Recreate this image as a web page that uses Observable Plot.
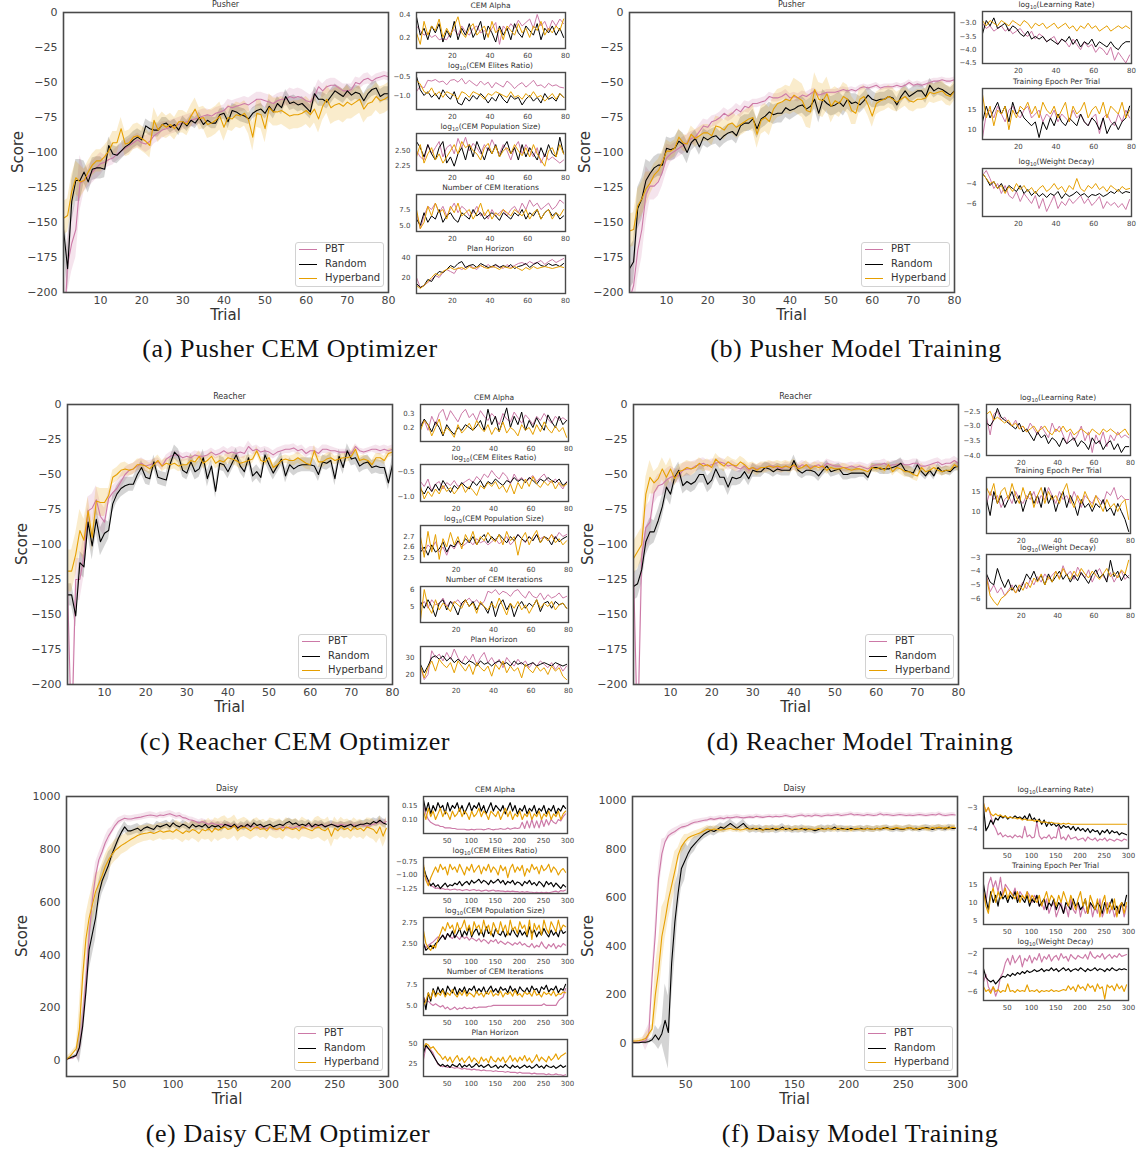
<!DOCTYPE html>
<html><head><meta charset="utf-8">
<script src="https://cdn.jsdelivr.net/npm/d3@7"></script>
<script src="https://cdn.jsdelivr.net/npm/@observablehq/plot@0.6"></script>
<style>
body{margin:0;background:#fff;}
#page{position:relative;width:1137px;height:1150px;overflow:hidden;background:#fff;font-family:"DejaVu Sans",sans-serif;}
.t{position:absolute;white-space:nowrap;color:#333;line-height:1;}
.t sub{font-size:70%;vertical-align:-0.25em;line-height:0;}
.cap{font-family:"Liberation Serif",serif;color:#111;font-size:26px;letter-spacing:0.6px;}
.legend{position:absolute;width:89px;height:45px;box-sizing:border-box;border:1px solid #d2d2d2;border-radius:3px;background:#fff;}
.lrow{position:absolute;left:0;font-size:10px;color:#333;white-space:nowrap;line-height:1;}
.lrow span.sw{position:absolute;left:3px;top:0;width:18px;height:0;border-top:1.3px solid;}
.lrow span.lb{position:absolute;left:29px;top:-5px;}
</style></head><body><div id="page"></div>
<script>
// ---------- shared labels ----------
const methods = ["PBT", "Random", "Hyperband"];
const methodColors = ["#cc79a7", "#000000", "#e69f00"];
const ticks80Main = [10, 20, 30, 40, 50, 60, 70, 80];
const ticks80Side = [20, 40, 60, 80];
const ticks300 = [50, 100, 150, 200, 250, 300];
const scoreTicksNeg = [0, -25, -50, -75, -100, -125, -150, -175, -200];
const scoreTicksPos = [0, 200, 400, 600, 800, 1000];

// ---------- (a) Pusher CEM Optimizer : score per trial (1..80) ----------
const aPBT = [-235,-180,-165,-155,-122,-120,-117,-114,-111,-108,-107,-105,-104,-101,-99,-97,-95,-93,-91,-93,-94,-92,-88,-86,-84,-83,-82,-81,-80,-79,-78,-77,-76,-75,-74,-73,-74,-72,-71,-70,-67,-68,-67,-66,-65,-66,-64,-62,-62,-63,-64,-65,-63,-62,-62,-60,-61,-60,-61,-63,-64,-60,-53,-56,-53,-52,-52,-54,-56,-56,-55,-50,-51,-48,-47,-49,-47,-46,-45,-46];
const aRandom = [-155,-183,-135,-120,-120,-114,-121,-112,-111,-111,-112,-95,-101,-102,-99,-96,-94,-91,-89,-91,-81,-83,-84,-84,-80,-79,-82,-80,-84,-78,-81,-77,-79,-75,-80,-77,-79,-79,-73,-72,-78,-70,-71,-73,-74,-76,-72,-70,-69,-72,-67,-71,-65,-68,-60,-65,-64,-66,-65,-68,-71,-58,-62,-62,-64,-60,-56,-58,-60,-56,-59,-57,-58,-63,-58,-55,-54,-60,-58,-58];
const aHyper = [-147,-145,-128,-118,-121,-120,-114,-109,-106,-106,-103,-99,-93,-93,-83,-94,-93,-89,-88,-90,-92,-95,-77,-84,-80,-82,-80,-83,-78,-78,-80,-74,-69,-76,-75,-80,-79,-77,-74,-82,-75,-76,-73,-74,-72,-77,-89,-72,-73,-83,-68,-71,-71,-70,-72,-74,-73,-73,-72,-70,-73,-69,-76,-67,-62,-68,-66,-65,-67,-64,-66,-64,-62,-69,-65,-64,-60,-63,-62,-60];
// band half-widths, one per 5 trials
const aPBTSd = [20,8,5,5,6,5,5,4,5,5,5,6,5,5,4,3];
const aRandomSd = [15,8,6,6,5,4,4,4,5,4,5,5,5,5,5,5];
const aHyperSd = [12,8,8,9,9,8,8,10,9,10,10,10,10,12,10,10];
// (a) hyperparameters, every 2nd trial (1,3,...,79)
const aAlphaPBT = [.3,.26,.22,.24,.2,.22,.18,.19,.18,.24,.27,.22,.3,.25,.22,.28,.3,.24,.26,.22,.28,.33,.14,.3,.26,.32,.28,.35,.3,.33,.36,.28,.4,.3,.34,.26,.35,.3,.36,.32];
const aAlphaRandom = [.38,.22,.28,.18,.3,.24,.32,.16,.26,.2,.34,.18,.28,.22,.32,.2,.26,.34,.18,.3,.24,.16,.3,.22,.28,.18,.32,.24,.2,.3,.26,.22,.32,.18,.28,.24,.3,.22,.28,.2];
const aAlphaHyper = [.24,.14,.34,.22,.3,.26,.36,.2,.28,.22,.3,.38,.24,.2,.28,.32,.22,.26,.3,.2,.34,.24,.28,.18,.3,.26,.22,.32,.24,.28,.2,.3,.26,.34,.22,.28,.24,.3,.26,.36];
const aElitesPBT = [-.9,-.75,-.8,-.6,-.62,-.58,-.65,-.62,-.72,-.6,-.58,-.65,-.55,-.7,-.6,-.68,-.75,-.62,-.72,-.65,-.8,-.66,-.72,-.78,-.62,-.7,-.82,-.72,-.66,-.78,-.7,-.6,-.75,-.72,-.8,-.68,-.75,-.72,-.78,-.8];
const aElitesRandom = [-.5,-.85,-1,-.9,-1.05,-.95,-1.1,-.85,-1,-1.1,-.9,-1.2,-1.25,-1.05,-1.15,-1,-1.1,-.95,-1.05,-1.2,-1.05,-1.15,-.95,-1.1,-1.2,-1,-1.1,-1.05,-1.25,-1.1,-1,-1.15,-1.05,-1.2,-.95,-1.1,-1.05,-1.15,-.95,-1.05];
const aElitesHyper = [-.6,-.7,-.9,-.95,-.8,-1,-.9,-1.05,-.9,-.95,-1,-1.1,-.9,-.95,-1.05,-.9,-.95,-1,-1.1,-.95,-1,-.9,-.95,-1,-1.05,-.9,-1.05,-1,-1.1,-.95,-1.05,-.9,-1.05,-1,-1.15,-1.05,-.95,-1.1,-.95,-1.05];
const aPopPBT = [2.5,2.4,2.35,2.6,2.45,2.55,2.65,2.4,2.55,2.6,2.45,2.7,2.55,2.72,2.5,2.62,2.55,2.45,2.6,2.5,2.68,2.55,2.45,2.6,2.5,2.35,2.55,2.65,2.45,2.6,2.5,2.4,2.55,2.3,2.45,2.35,2.4,2.35,2.3,2.35];
const aPopRandom = [2.65,2.55,2.4,2.6,2.45,2.35,2.55,2.65,2.3,2.4,2.25,2.45,2.55,2.35,2.6,2.4,2.65,2.5,2.35,2.55,2.45,2.6,2.4,2.55,2.65,2.45,2.55,2.35,2.6,2.4,2.55,2.45,2.35,2.55,2.4,2.6,2.45,2.4,2.72,2.45];
const aPopHyper = [2.4,2.6,2.3,2.45,2.55,2.35,2.45,2.3,2.4,2.5,2.6,2.45,2.65,2.55,2.6,2.5,2.45,2.35,2.55,2.62,2.45,2.58,2.4,2.5,2.55,2.45,2.6,2.5,2.42,2.55,2.4,2.6,2.45,2.35,2.25,2.5,2.55,2.4,2.6,2.45];
const aIterPBT = [7,4.5,6.5,8,7.5,8.5,7,8,6.5,7.5,8.5,7,8,7.5,6.5,7,8,6.5,7,6,7.5,6.5,7,7.5,6.5,7.5,8,7,8.5,7.5,9,8,8.5,7.5,8,8.5,7.5,8,9,8.5];
const aIterRandom = [6,5,7,5.5,6.5,6,7.5,5.5,6.5,7,6,5.5,7,6.5,6,7.5,6.5,7,6,6.5,7,6.5,5.8,7,6.5,6,7,6.5,7.5,6,7,6.5,7.5,6,7,7.5,6.5,7,6,6.5];
const aIterHyper = [7.5,4.5,5.5,8,6.5,8.5,7,7.5,6,8,7,8.5,6.5,7,7.5,6,7,8.5,6.5,7.5,6,7,6.5,7.5,7,6.5,7.5,7,6.5,7.5,6,7,7.5,6,7,7.5,6,7,6.5,7.5];
const aHorPBT = [20,10,12,15,18,22,20,25,28,26,24,30,28,30,32,30,28,32,30,33,30,32,31,29,33,30,32,34,35,33,36,34,35,37,33,36,38,35,37,39];
const aHorRandom = [14,10,12,18,16,22,26,25,28,32,30,34,36,30,32,33,30,34,32,30,31,33,30,32,30,33,29,31,32,34,30,33,35,32,31,34,32,33,31,34];
const aHorHyper = [12,9,12,16,20,24,22,26,28,30,28,29,30,28,31,29,30,32,30,29,31,30,28,31,30,29,31,29,27,30,28,31,29,30,31,30,29,30,31,30];

// ---------- (b) Pusher Model Training ----------
const bPBT = [-205,-195,-170,-155,-130,-124,-124,-121,-114,-104,-101,-99,-97,-95,-93,-90,-89,-85,-81,-82,-78,-77,-75,-72,-74,-72,-69,-71,-67,-68,-65,-65,-64,-63,-60,-61,-61,-60,-58,-61,-60,-61,-59,-60,-58,-56,-59,-58,-57,-57,-57,-56,-55,-56,-55,-56,-54,-53,-54,-53,-52,-54,-53,-53,-53,-52,-53,-52,-50,-52,-51,-52,-51,-50,-49,-49,-48,-49,-49,-48];
const bRandom = [-183,-178,-140,-133,-120,-115,-111,-109,-109,-97,-98,-97,-92,-94,-100,-93,-90,-96,-89,-91,-89,-88,-91,-88,-86,-85,-88,-81,-79,-79,-76,-83,-76,-74,-71,-73,-72,-72,-68,-70,-69,-67,-66,-69,-67,-62,-72,-62,-65,-67,-66,-64,-67,-62,-65,-64,-66,-63,-59,-62,-63,-62,-62,-60,-61,-66,-60,-56,-60,-58,-56,-56,-60,-52,-56,-54,-55,-57,-59,-56];
const bHyper = [-156,-155,-138,-133,-126,-122,-116,-113,-107,-99,-99,-97,-89,-93,-94,-87,-90,-88,-86,-86,-88,-81,-82,-84,-80,-79,-82,-80,-78,-76,-75,-87,-77,-75,-78,-69,-65,-64,-62,-63,-59,-61,-63,-70,-71,-55,-62,-63,-58,-67,-63,-65,-60,-62,-70,-72,-62,-60,-66,-74,-65,-63,-62,-60,-62,-64,-62,-60,-63,-64,-62,-62,-61,-57,-58,-57,-56,-59,-60,-56];
const bPBTSd = [20,10,6,5,4,4,3,3,3,2,2,2,2,2,2,2];
const bRandomSd = [15,8,8,6,6,6,7,7,6,7,7,6,5,5,5,5];
const bHyperSd = [12,8,6,6,7,8,10,10,12,12,10,8,8,7,7,7];
const bLrPBT = [-3,-3.2,-3.1,-3.3,-3.2,-3.1,-3.3,-3.2,-3.4,-3.3,-3.2,-3.4,-3.5,-3.3,-3.6,-3.4,-3.5,-3.7,-3.6,-3.5,-3.8,-3.6,-3.7,-3.9,-3.6,-3.8,-4,-3.7,-3.9,-3.8,-4.1,-3.9,-4,-4.2,-3.9,-4.4,-4.1,-4.3,-4.5,-4.2];
const bLrRandom = [-3.4,-2.9,-3.1,-2.8,-3.2,-3.1,-3,-3.3,-3.1,-3.2,-3.4,-3.5,-3.3,-3.6,-3.5,-3.6,-3.5,-3.7,-3.6,-3.7,-3.8,-3.6,-3.7,-3.5,-3.8,-3.6,-3.9,-3.7,-3.8,-3.6,-3.9,-3.7,-3.8,-3.9,-3.7,-3.9,-4,-3.8,-3.7,-3.7];
const bLrHyper = [-2.9,-3.1,-2.9,-3,-3.1,-2.9,-3,-3.1,-2.9,-3,-3.1,-2.9,-3,-3.2,-3,-3.1,-3,-3.2,-3.1,-3,-3.2,-3.1,-3,-3.2,-3.1,-3.3,-3.1,-3.2,-3,-3.2,-3.1,-3.3,-3.2,-3.1,-3.3,-3.2,-3.1,-3.2,-3.1,-3.2];
const bEpPBT = [8,14,15,13,16,14,12,15,16,14,13,15,16,13,14,15,12,14,13,15,12,14,13,12,15,13,14,12,11,13,14,9,13,14,12,11,14,12,15,13];
const bEpRandom = [12,16,13,15,17,14,16,12,17,14,15,13,12,11,12,8,12,10,13,11,14,12,11,13,12,11,14,12,11,13,12,10,13,9,11,12,10,12,13,16];
const bEpHyper = [19,13,16,11,15,14,16,10,15,13,16,15,17,14,16,13,17,15,14,16,13,15,17,12,16,14,15,17,13,15,16,14,17,13,16,15,14,17,13,15];
const bWdPBT = [-3.2,-2.7,-3.5,-4.5,-4,-5,-4.2,-5.2,-5.5,-4.8,-5.8,-5,-5.5,-6,-5.2,-6.5,-5.5,-6.8,-6,-5.2,-6.5,-5.8,-6.2,-5.5,-6,-5.6,-5.2,-6,-5.5,-6.2,-5.8,-5.3,-6.5,-5.8,-6.2,-5.9,-6.4,-6,-6.6,-5.6];
const bWdRandom = [-3,-3.5,-4.2,-3.8,-4.5,-4,-4.8,-4.2,-4.5,-4.8,-4.2,-5,-4.6,-5.2,-4.8,-5.3,-5,-5.4,-5,-5.2,-4.8,-5.5,-5,-5.3,-5.1,-4.8,-5.2,-5,-5.4,-5.1,-5.2,-5,-5.3,-5.1,-4.8,-5,-4.6,-5,-4.8,-4.9];
const bWdHyper = [-3,-3.5,-4,-3.8,-4.5,-4.2,-5,-4.3,-4.8,-4,-4.6,-4.2,-4.8,-4.4,-5,-4.5,-4.2,-4.8,-4.5,-4,-4.6,-4.3,-4.9,-4.2,-4.6,-3.5,-4.5,-4.8,-4.2,-4.5,-4,-4.6,-4.3,-4.8,-4.2,-4.5,-4.8,-4.3,-4.6,-4.5];

// ---------- (c) Reacher CEM Optimizer ----------
const cPBT = [-128,-240,-125,-125,-108,-76,-74,-68,-80,-84,-67,-63,-60,-55,-50,-47,-46,-44,-42,-44,-43,-42,-41,-44,-39,-37,-36,-36,-38,-37,-38,-36,-37,-37,-36,-34,-36,-35,-33,-35,-34,-35,-34,-35,-30,-33,-32,-34,-33,-34,-36,-34,-33,-32,-32,-31,-33,-32,-35,-33,-33,-35,-32,-32,-33,-33,-34,-34,-34,-35,-30,-33,-34,-33,-32,-32,-33,-32,-33,-32];
const cRandom = [-136,-136,-151,-113,-116,-84,-101,-82,-98,-92,-90,-71,-64,-60,-58,-57,-57,-50,-45,-52,-53,-41,-52,-53,-54,-42,-34,-37,-47,-49,-41,-48,-46,-38,-53,-44,-62,-42,-43,-48,-42,-36,-44,-48,-38,-51,-48,-52,-36,-43,-49,-44,-39,-51,-43,-46,-44,-43,-43,-43,-44,-50,-41,-42,-40,-53,-37,-45,-33,-39,-38,-44,-42,-41,-45,-44,-45,-45,-56,-43];
const cHyper = [-119,-119,-107,-90,-97,-76,-95,-69,-70,-70,-65,-52,-50,-47,-46,-47,-46,-43,-43,-44,-46,-43,-40,-44,-42,-43,-42,-44,-43,-43,-40,-41,-37,-42,-40,-37,-42,-40,-41,-38,-39,-40,-42,-41,-40,-39,-33,-40,-41,-38,-45,-43,-40,-39,-40,-40,-38,-40,-42,-43,-33,-41,-41,-39,-38,-40,-39,-38,-38,-37,-32,-40,-39,-40,-43,-38,-38,-40,-35,-34];
const cPBTSd = [15,10,5,4,3,3,3,3,4,3,3,3,3,2,2,3];
const cRandomSd = [8,10,6,5,5,5,6,5,5,5,5,5,5,5,5,5];
const cHyperSd = [15,10,5,4,4,4,4,4,4,3,3,4,4,3,3,3];
const cAlphaPBT = [.22,.25,.18,.28,.22,.3,.33,.25,.32,.28,.24,.3,.33,.27,.3,.25,.32,.28,.25,.3,.27,.22,.3,.26,.24,.31,.27,.23,.29,.26,.22,.28,.25,.3,.26,.23,.28,.25,.27,.25];
const cAlphaRandom = [.2,.26,.22,.17,.24,.2,.14,.22,.18,.15,.2,.18,.22,.2,.18,.21,.25,.18,.33,.22,.28,.17,.25,.34,.2,.28,.22,.31,.18,.25,.2,.27,.22,.18,.29,.24,.2,.28,.22,.25];
const cAlphaHyper = [.18,.25,.22,.14,.2,.26,.15,.2,.17,.13,.22,.16,.19,.23,.18,.25,.2,.17,.22,.15,.2,.17,.24,.16,.2,.18,.14,.22,.18,.2,.15,.22,.17,.24,.19,.16,.21,.17,.2,.13];
const cElitesPBT = [-.7,-.8,-.65,-.9,-.75,-.7,-.85,-.72,-.78,-.68,-.8,-.75,-.7,-.65,-.72,-.6,-.68,-.55,-.62,-.48,-.58,-.65,-.52,-.6,-.75,-.55,-.68,-.62,-.72,-.65,-.58,-.7,-.62,-.55,-.68,-.72,-.65,-.75,-.85,-.7];
const cElitesRandom = [-.85,-.95,-.8,-.9,-.75,-.88,-.68,-.8,-.92,-.78,-.85,-.72,-.8,-.85,-.7,-.78,-.68,-.82,-.7,-.75,-.65,-.72,-.78,-.68,-.72,-.62,-.7,-.65,-.72,-.62,-.68,-.75,-.65,-.7,-.62,-.68,-.72,-.65,-.78,-.72];
const cElitesHyper = [-.8,-1.05,-.9,-1,-.85,-.95,-.78,-.9,-.82,-.95,-.85,-.75,-.92,-.8,-.88,-.98,-.78,-.85,-.72,-.8,-.7,-.85,-.78,-.92,-.75,-.95,-.72,-.85,-.65,-.8,-.6,-.75,-.82,-.7,-.78,-.68,-.85,-.72,-.8,-.75];
const cPopPBT = [2.6,2.55,2.62,2.58,2.65,2.55,2.6,2.52,2.62,2.58,2.65,2.6,2.63,2.66,2.62,2.68,2.64,2.66,2.62,2.65,2.68,2.63,2.66,2.7,2.62,2.66,2.72,2.68,2.64,2.7,2.66,2.72,2.68,2.7,2.66,2.72,2.68,2.74,2.7,2.72];
const cPopRandom = [2.55,2.6,2.52,2.62,2.55,2.58,2.65,2.55,2.62,2.6,2.66,2.62,2.68,2.64,2.7,2.62,2.68,2.72,2.64,2.7,2.66,2.72,2.68,2.64,2.7,2.66,2.72,2.68,2.65,2.7,2.66,2.72,2.64,2.7,2.68,2.62,2.7,2.65,2.68,2.7];
const cPopHyper = [2.7,2.5,2.75,2.55,2.72,2.48,2.68,2.6,2.74,2.62,2.7,2.58,2.72,2.65,2.75,2.62,2.7,2.66,2.74,2.68,2.65,2.72,2.62,2.75,2.66,2.7,2.52,2.68,2.74,2.62,2.7,2.76,2.64,2.7,2.66,2.72,2.64,2.68,2.62,2.66];
const cIterPBT = [5,5.3,4.9,5.4,5.1,5.2,5.5,5,5.3,5.2,5.4,5.1,5.3,5.5,5.2,5.4,5.1,5.3,5.9,5.8,6,5.7,5.9,5.8,5.6,5.9,6,5.7,5.5,5.9,5.6,5.5,5.8,5.4,5.7,5.5,5.6,5.8,5.5,5.6];
const cIterRandom = [5.3,4.9,5.4,5,4.4,5.2,5.4,4.8,5.3,5,4.5,5.2,5.4,5,5.3,4.8,5.2,5,4.6,5.3,4.4,5.1,5.4,4.8,5.2,4.4,5,5.3,4.9,5.2,5,5.4,4.7,5.2,5.3,4.9,5.3,5.1,5.2,4.9];
const cIterHyper = [4.2,6,5,4.6,5.4,4.8,5.2,5,4.7,5.3,5.1,4.9,5.4,5,5.2,4.6,5.3,5,4.8,5.2,4.9,5.5,5,4.5,5.2,4.9,5.3,4.8,5.1,4.6,5,5.4,4.9,5.2,5,5.3,4.8,5.1,5.2,4.9];
const cHorPBT = [24,17,20,34,30,32,28,33,29,35,30,27,31,28,32,26,30,33,27,30,26,29,24,30,27,25,29,26,28,24,27,25,28,26,24,27,23,26,22,25];
const cHorRandom = [26,21,25,30,31,29,31,28,30,27,29,27,26,28,27,25,28,26,27,25,27,28,26,27,25,28,26,27,25,26,27,25,26,27,26,25,27,26,25,26];
const cHorHyper = [25,18,24,28,22,29,26,24,27,21,28,25,22,26,20,27,24,22,25,19,26,23,28,21,25,22,24,18,26,23,21,25,22,24,20,25,22,24,19,17];

// ---------- (d) Reacher Model Training ----------
const dPBT = [-118,-240,-108,-88,-84,-63,-58,-57,-54,-52,-51,-51,-47,-46,-46,-44,-43,-42,-44,-43,-42,-41,-42,-44,-43,-45,-46,-44,-47,-45,-46,-45,-45,-44,-44,-45,-46,-44,-45,-44,-45,-43,-44,-45,-44,-43,-45,-42,-43,-44,-44,-45,-45,-44,-45,-44,-45,-46,-44,-43,-43,-42,-44,-43,-43,-42,-43,-43,-42,-42,-44,-44,-43,-42,-41,-43,-42,-42,-40,-42];
const dRandom = [-130,-128,-118,-98,-91,-91,-83,-73,-59,-64,-52,-47,-58,-55,-57,-55,-50,-50,-57,-54,-46,-52,-52,-59,-52,-53,-52,-48,-53,-47,-48,-48,-45,-46,-48,-46,-47,-47,-47,-40,-47,-49,-47,-47,-48,-51,-47,-44,-48,-47,-46,-50,-50,-49,-49,-49,-49,-52,-45,-45,-46,-46,-46,-45,-44,-42,-47,-48,-49,-43,-48,-51,-47,-51,-45,-48,-47,-48,-45,-44];
const dHyper = [-110,-105,-100,-64,-52,-56,-53,-46,-52,-46,-53,-48,-47,-45,-46,-45,-42,-44,-43,-45,-39,-42,-44,-41,-43,-44,-41,-43,-46,-45,-47,-45,-45,-44,-45,-44,-45,-44,-45,-43,-46,-45,-43,-46,-44,-45,-44,-47,-45,-46,-46,-45,-46,-47,-46,-46,-47,-48,-45,-46,-45,-47,-43,-48,-45,-46,-48,-48,-50,-51,-45,-48,-47,-45,-47,-48,-47,-47,-43,-45];
const dPBTSd = [15,8,5,4,3,3,3,3,3,3,3,3,3,3,3,3];
const dRandomSd = [10,8,6,6,6,5,4,4,4,4,4,3,4,4,3,3];
const dHyperSd = [12,8,5,4,4,4,4,4,3,3,3,3,3,4,3,3];
const dLrPBT = [-2.7,-3.3,-2.6,-2.5,-2.8,-2.7,-2.9,-3,-2.8,-3.1,-3,-3.2,-2.9,-3.1,-3.3,-3,-3.2,-3.4,-2.9,-3.2,-3,-3.3,-3.6,-3.2,-3.5,-3.3,-3,-3.5,-3.2,-3.9,-3.3,-3.6,-3.2,-3.7,-3.3,-3.5,-3.2,-3.4,-3.3,-3.4];
const dLrRandom = [-2.9,-3,-2.8,-2.4,-2.7,-2.8,-2.9,-3,-3.1,-2.9,-3.2,-3.1,-3.3,-3.5,-3.2,-3.4,-3.3,-3.6,-3.4,-3.5,-3.7,-3.4,-3.6,-3.5,-3.4,-3.7,-3.5,-3.6,-3.8,-3.4,-3.6,-3.5,-3.8,-3.6,-3.5,-3.8,-3.6,-3.9,-3.7,-3.7];
const dLrHyper = [-2.6,-2.5,-2.8,-2.7,-2.8,-2.9,-2.8,-3,-2.9,-3.1,-3,-3.2,-3.1,-3,-3.2,-3.1,-3,-3.2,-3.3,-3.1,-3.2,-3,-3.2,-3.1,-3.3,-3.2,-3.1,-3.2,-3.3,-3.1,-3.2,-3.3,-3.1,-3.2,-3.1,-3.2,-3.3,-3.2,-3.1,-3.3];
const dEpPBT = [12,15,13,14,11,13,14,12,15,13,12,14,13,15,12,14,13,16,14,12,15,13,14,12,15,13,11,14,13,12,14,13,12,15,14,16,13,14,13,13];
const dEpRandom = [13,9,15,12,14,11,13,15,12,14,10,13,15,12,14,11,16,12,14,10,13,15,11,14,12,9,13,11,12,10,12,11,13,10,11,9,12,10,8,5];
const dEpHyper = [16,14,17,12,15,16,13,17,14,12,16,13,15,11,14,16,12,15,13,14,12,15,17,13,11,14,12,15,13,11,14,12,10,13,11,12,10,12,13,8];
const dWdPBT = [-4.3,-5.5,-5,-5.6,-5.2,-5.8,-5.4,-5,-5.6,-5.2,-4.8,-5.3,-4.6,-5,-4.4,-4.8,-4.2,-4.6,-4.3,-4,-4.5,-3.6,-4.3,-4,-4.6,-3.7,-4.2,-4.5,-3.9,-4.8,-4.2,-3.8,-4.4,-4.6,-4.1,-4.8,-4.3,-4,-4.6,-4.3];
const dWdRandom = [-4.2,-4.8,-5,-3.8,-4.6,-5.2,-4.6,-5.4,-5,-5.5,-4.9,-4.2,-4.6,-4,-4.7,-4.3,-5,-4.2,-4.8,-4.4,-4,-4.6,-4.2,-4.8,-4.3,-4.7,-4.1,-4.5,-4.9,-4.3,-3.9,-4.5,-4.2,-4.8,-3.2,-4.4,-4,-4.7,-4.2,-4.5];
const dWdHyper = [-4.5,-5.8,-6.2,-6.5,-6,-5.8,-5.5,-5.2,-5.6,-5,-5.4,-4.8,-5.2,-4.5,-4.8,-4.2,-5,-4.4,-4.8,-4,-4.6,-3.8,-4.3,-4.6,-4,-4.4,-3.8,-4.2,-4.5,-4,-4.3,-4.6,-4.2,-3.8,-4.4,-4.1,-4.5,-3.9,-4.2,-3.2];

// ---------- (e) Daisy CEM Optimizer : score every 3rd trial (1,4,...,298) ----------
const ePBT = [5,8,10,20,50,150,300,470,610,700,760,790,825,850,870,890,905,912,918,915,915,918,920,922,925,928,930,928,925,930,928,932,935,930,925,928,920,918,912,910,905,900,905,900,895,900,895,892,895,890,895,888,890,885,888,885,890,888,885,880,885,882,878,885,880,875,880,885,880,885,880,885,888,880,885,890,888,885,890,892,888,890,895,892,890,895,892,890,895,892,890,895,890,888,892,895,900,905,900,905];
const eRandom = [5,10,15,20,50,130,260,420,480,540,630,680,710,740,780,810,840,865,885,870,870,875,880,870,880,885,880,875,890,885,890,895,885,900,890,885,895,890,880,895,885,890,885,895,880,890,885,890,880,895,890,885,895,880,890,885,895,885,900,890,895,885,890,895,885,890,895,890,900,905,895,900,890,895,890,900,885,895,890,895,885,890,895,890,885,890,885,890,895,885,890,895,895,900,895,905,900,910,900,895];
const eHyper = [5,15,30,45,120,320,460,540,590,640,670,700,735,760,780,795,805,815,822,830,838,845,852,857,860,862,865,860,865,870,865,868,870,865,875,868,860,870,865,875,870,860,875,870,878,865,880,872,880,885,875,880,890,870,880,885,878,870,880,885,875,880,870,885,880,875,880,870,885,880,875,880,870,885,880,875,870,880,885,875,870,880,850,880,870,885,875,880,870,885,875,880,870,885,880,875,860,885,850,880];
// band half-widths, one per 10 trials
const ePBTSd = [5,50,50,25,15,12,12,12,11,12,12,11,12,12,11,10,10,11,10,10,11,10,10,11,10,10,11,10,10,12];
const eRandomSd = [5,60,80,50,25,20,18,15,16,15,14,15,16,14,15,13,15,14,15,16,14,15,13,15,14,16,15,14,15,16];
const eHyperSd = [10,90,70,45,40,35,32,30,30,32,35,34,36,40,42,40,36,35,34,36,35,37,34,40,42,36,35,34,38,42];
// (e) hyperparameters, every 5th trial (1,6,...,296)
const eAlphaPBT = [.15,.12,.1,.09,.085,.08,.08,.075,.075,.07,.07,.07,.068,.068,.065,.065,.065,.065,.063,.063,.065,.063,.065,.065,.065,.063,.065,.068,.065,.063,.065,.065,.068,.065,.065,.07,.065,.068,.07,.068,.07,.09,.068,.095,.07,.1,.07,.095,.07,.1,.075,.1,.08,.1,.09,.085,.1,.095,.11,.12];
const eAlphaRandom = [.17,.13,.16,.12,.15,.13,.16,.14,.15,.12,.16,.13,.15,.14,.16,.13,.15,.12,.14,.16,.13,.15,.14,.16,.13,.15,.12,.14,.16,.13,.15,.14,.13,.15,.12,.14,.16,.13,.15,.12,.14,.13,.15,.12,.14,.13,.15,.12,.14,.13,.15,.12,.14,.13,.15,.12,.14,.13,.15,.14];
const eAlphaHyper = [.13,.1,.14,.11,.13,.1,.12,.14,.11,.13,.12,.1,.13,.11,.12,.14,.11,.13,.12,.1,.13,.11,.12,.14,.11,.13,.12,.1,.13,.12,.11,.13,.1,.12,.14,.11,.13,.1,.12,.11,.13,.1,.12,.11,.13,.1,.12,.11,.13,.1,.12,.11,.13,.1,.12,.11,.13,.1,.12,.13];
const eElitesPBT = [-1,-1.05,-1.15,-1.2,-1.22,-1.25,-1.24,-1.26,-1.25,-1.27,-1.26,-1.28,-1.27,-1.26,-1.28,-1.27,-1.29,-1.28,-1.27,-1.29,-1.28,-1.27,-1.29,-1.28,-1.3,-1.29,-1.28,-1.3,-1.29,-1.28,-1.3,-1.29,-1.3,-1.3,-1.31,-1.3,-1.31,-1.3,-1.31,-1.31,-1.32,-1.31,-1.32,-1.31,-1.32,-1.32,-1.33,-1.32,-1.33,-1.32,-1.33,-1.32,-1.33,-1.32,-1.31,-1.3,-1.32,-1.29,-1.3,-1.28];
const eElitesRandom = [-.85,-1,-1.1,-1.2,-1.15,-1.22,-1.18,-1.25,-1.2,-1.15,-1.22,-1.18,-1.2,-1.15,-1.18,-1.12,-1.2,-1.15,-1.12,-1.18,-1.1,-1.15,-1.12,-1.08,-1.15,-1.1,-1.13,-1.18,-1.1,-1.15,-1.12,-1.08,-1.15,-1.1,-1.18,-1.12,-1.15,-1.1,-1.18,-1.13,-1.15,-1.2,-1.12,-1.16,-1.1,-1.18,-1.14,-1.2,-1.12,-1.16,-1.22,-1.12,-1.18,-1.14,-1.22,-1.15,-1.2,-1.25,-1.18,-1.22];
const eElitesHyper = [-.8,-1.1,-1.2,-1.05,-.95,-.85,-.95,-.8,-.9,-.85,-1,-.8,-.9,-.85,-.95,-.8,-.9,-1,-.85,-.92,-.8,-.95,-.88,-.82,-.98,-.85,-.92,-.8,-.95,-.85,-.9,-1,-.82,-.92,-.85,-1.05,-.88,-.8,-.95,-.85,-.92,-.82,-1.02,-.88,-.95,-.8,-.9,-.85,-.98,-.82,-.92,-.88,-.8,-.95,-.85,-.9,-1,-.92,-.88,-.95];
const ePopPBT = [2.5,2.45,2.48,2.5,2.52,2.55,2.58,2.56,2.6,2.55,2.62,2.58,2.56,2.6,2.58,2.55,2.6,2.56,2.58,2.54,2.57,2.55,2.53,2.56,2.52,2.55,2.53,2.5,2.54,2.52,2.55,2.5,2.53,2.51,2.49,2.52,2.5,2.48,2.51,2.49,2.52,2.48,2.5,2.47,2.46,2.5,2.45,2.48,2.46,2.52,2.47,2.44,2.49,2.46,2.5,2.44,2.48,2.46,2.5,2.48];
const ePopRandom = [2.5,2.42,2.45,2.48,2.44,2.5,2.52,2.56,2.6,2.55,2.62,2.58,2.65,2.57,2.62,2.68,2.58,2.65,2.6,2.7,2.58,2.64,2.68,2.6,2.66,2.58,2.7,2.62,2.64,2.58,2.68,2.62,2.6,2.66,2.58,2.64,2.6,2.68,2.62,2.58,2.66,2.6,2.64,2.58,2.7,2.62,2.66,2.58,2.64,2.6,2.68,2.62,2.58,2.66,2.6,2.64,2.58,2.68,2.62,2.64];
const ePopHyper = [2.65,2.5,2.45,2.42,2.48,2.45,2.55,2.62,2.7,2.65,2.75,2.68,2.72,2.62,2.75,2.66,2.7,2.78,2.65,2.72,2.6,2.76,2.68,2.72,2.62,2.78,2.66,2.72,2.6,2.75,2.68,2.62,2.76,2.65,2.72,2.6,2.78,2.66,2.7,2.62,2.76,2.68,2.72,2.6,2.78,2.55,2.74,2.66,2.72,2.6,2.78,2.68,2.62,2.76,2.7,2.64,2.78,2.66,2.72,2.7];
const eIterPBT = [6,5.5,5.5,5.2,5,5.2,5,4.8,5,4.6,4.8,4.5,4.6,4.8,4.5,4.7,4.6,4.8,4.6,4.7,4.6,4.8,4.7,4.8,4.8,4.8,4.8,4.9,4.9,5,5,5,5,5,5,5,5,5,5,5,5,5,5,5,5,5,5,5,5,5,5.2,5,5,5,5,5,5.5,5.8,6,7];
const eIterRandom = [6,4.5,6.5,5.5,7,6.2,7.2,6.5,7,6.2,7.3,6.8,6.5,7.2,6.3,7,6.6,7.2,6.4,7,6.8,7.3,6.5,7,6.6,7.2,6.4,6.9,7.3,6.6,7,6.5,7.2,6.8,7,6.5,7.3,6.7,7,6.4,7.2,6.8,6.6,7.1,6.5,7.3,6.8,7,6.4,7.2,6.9,7.4,6.6,7,6.8,7.3,6.5,7,6.8,7.5];
const eIterHyper = [5,5.5,6.5,5.8,6.8,6,6.5,6.2,6.8,6,6.5,6.2,6.9,6.3,6,6.6,6.2,6.8,6.1,6.5,6.3,6,6.7,6.2,6.5,6,6.6,6.3,6.8,6.1,6.4,6.2,6.7,6,6.5,6.3,6.6,6.1,6.8,6.2,6.4,6,6.6,6.3,6.5,6.1,6.8,6.2,6.4,6,6.6,6.3,6.5,6.2,6.7,6.1,6.4,6.3,6.6,6.5];
const eHorPBT = [30,45,44,42,38,30,24,22,21,22,20,21,20,19,20,19,18,19,18,18,17,18,17,17,16,17,16,16,16,15,16,15,15,15,14,15,14,14,14,13,14,13,13,13,13,12,13,12,12,12,12,11,12,11,11,12,11,11,10,11];
const eHorRandom = [38,48,44,40,35,30,25,22,24,21,23,20,24,22,21,25,20,23,21,24,20,22,25,21,23,20,22,24,20,21,23,19,22,20,24,21,19,23,20,22,19,21,23,20,22,19,21,24,20,22,19,23,21,20,22,19,21,23,20,22];
const eHorHyper = [45,50,48,44,46,42,38,35,30,34,28,33,26,31,35,28,32,26,30,34,27,32,29,25,33,28,31,26,34,29,27,32,28,33,26,30,35,28,32,27,33,29,35,28,32,26,30,36,28,33,30,27,34,29,32,37,30,34,36,38];

// ---------- (f) Daisy Model Training ----------
const fPBT = [5,5,5,8,10,40,270,450,680,780,830,855,865,872,882,890,893,898,905,910,912,915,918,920,925,922,925,928,925,930,928,930,933,930,928,930,932,930,935,932,930,933,935,932,935,933,935,938,935,932,935,938,940,935,938,935,940,938,935,938,940,938,940,942,938,940,942,945,940,942,940,938,942,940,938,940,945,940,942,940,938,940,942,940,938,940,938,940,942,940,938,940,942,940,945,940,938,940,942,940];
const fRandom = [3,3,3,5,5,8,15,35,15,40,95,45,330,500,620,720,750,780,805,820,835,850,862,870,877,872,880,890,885,895,905,895,885,895,905,890,880,885,880,885,878,882,880,885,878,882,890,880,885,878,882,880,885,878,882,880,875,880,885,880,885,882,890,880,885,882,880,885,880,882,885,880,885,882,880,885,882,885,888,882,880,885,882,880,885,888,882,885,880,885,888,885,880,885,888,885,882,890,885,885];
const fHyper = [10,10,12,15,20,40,60,200,300,440,510,590,650,710,775,810,830,845,852,858,863,868,875,882,878,882,880,878,880,882,885,880,882,878,880,885,880,882,885,880,878,885,882,880,885,882,880,885,882,880,885,880,882,885,880,882,880,885,882,880,885,882,880,885,882,880,885,878,882,885,882,880,885,882,880,885,882,888,885,882,885,888,885,882,885,888,885,882,885,888,885,882,888,885,890,885,888,885,890,888];
const fPBTSd = [5,40,60,15,12,10,10,10,10,10,9,9,8,8,8,8,8,8,8,8,8,8,8,8,8,8,8,8,8,8];
const fRandomSd = [5,8,40,150,80,30,20,18,18,16,16,15,15,15,14,15,14,15,14,13,12,13,12,12,13,12,12,13,12,12];
const fHyperSd = [8,20,120,80,30,16,15,14,13,12,12,12,13,12,12,12,11,12,12,12,11,12,12,11,12,12,11,12,12,12];
const fLrPBT = [-2.8,-3.2,-3,-3.4,-3.8,-4,-4.3,-4.2,-4.4,-4.3,-4.4,-4.35,-4.45,-4.3,-4.4,-4.35,-4.45,-3.9,-4.4,-4.3,-4.45,-4.4,-3.7,-4.35,-4.5,-4.4,-4.45,-4.3,-4.5,-4.4,-4.45,-3.9,-4.5,-4.4,-4.55,-4.3,-4.5,-4.45,-4.4,-4.55,-4.5,-4.45,-4.6,-4.4,-4.5,-4.55,-4.45,-4.6,-4.5,-4.55,-4.45,-4.6,-4.5,-4.55,-4.6,-4.5,-4.55,-4.6,-4.5,-4.55];
const fLrRandom = [-3,-4.1,-3.9,-3.6,-3.8,-3.5,-3.6,-3.4,-3.5,-3.4,-3.55,-3.45,-3.5,-3.4,-3.5,-3.45,-3.55,-3.4,-3.6,-3.3,-3.6,-3.5,-3.7,-3.55,-3.8,-3.6,-3.9,-3.7,-3.85,-3.75,-3.9,-3.8,-4,-3.85,-3.95,-3.9,-4.05,-3.9,-4.1,-3.95,-4.1,-4,-4.15,-4,-4.2,-4.05,-4.15,-4.1,-4.3,-4.1,-4.2,-4.05,-4.25,-4.1,-4.2,-4.15,-4.3,-4.2,-4.25,-4.3];
const fLrHyper = [-2.8,-3.2,-3,-3.3,-3.4,-3.3,-3.4,-3.35,-3.45,-3.4,-3.5,-3.45,-3.5,-3.5,-3.55,-3.5,-3.6,-3.55,-3.6,-3.6,-3.6,-3.65,-3.6,-3.65,-3.7,-3.7,-3.7,-3.75,-3.7,-3.75,-3.75,-3.75,-3.8,-3.75,-3.8,-3.75,-3.8,-3.8,-3.8,-3.8,-3.8,-3.8,-3.8,-3.8,-3.8,-3.8,-3.8,-3.8,-3.8,-3.8,-3.8,-3.8,-3.8,-3.8,-3.8,-3.8,-3.8,-3.8,-3.8,-3.8];
const fEpPBT = [13,10,15,17,14,16,13,17,12,15,14,13,12,14,11,13,12,11,13,12,10,12,11,9,10,8,11,7,9,10,6,8,10,7,9,6,11,8,7,10,6,9,7,8,10,6,9,7,11,6,8,10,7,9,6,8,7,10,6,9];
const fEpRandom = [15,11,8,13,10,12,9,13,11,12,10,12,11,13,10,12,11,10,12,9,11,10,12,9,10,11,8,10,9,11,8,10,9,7,10,9,8,11,9,10,8,9,11,7,10,9,8,10,9,7,10,8,9,11,8,9,7,10,9,12];
const fEpHyper = [13,9,7,12,14,10,13,11,12,14,11,13,12,11,13,10,12,11,13,10,12,11,10,12,9,11,13,10,12,11,9,12,10,13,11,9,12,10,8,11,13,9,11,7,12,10,8,11,6,10,12,7,10,8,11,6,9,10,7,10];
const fWdPBT = [-5,-4.2,-5.5,-6,-5.5,-6.5,-5.8,-4.5,-4,-3,-2.5,-3.2,-2.2,-3,-2.6,-2.2,-3.4,-2.5,-2.8,-2.2,-3,-2.4,-2.7,-2,-2.9,-2.3,-2.6,-2.1,-2.8,-2.4,-2.2,-2.7,-2,-2.5,-2.3,-2.8,-2.1,-2.4,-2.6,-2.2,-2.4,-2.5,-2.1,-2.6,-1.8,-2.3,-2.5,-2.2,-2.4,-2,-2.6,-2.3,-2.1,-2.5,-2.2,-2.4,-2,-2.3,-2.2,-2.1];
const fWdRandom = [-3.6,-4.5,-4.8,-5,-4.8,-5.2,-4.9,-4.6,-4.4,-4.5,-4.2,-4.4,-4.1,-4.3,-4,-4.2,-3.9,-4.1,-3.8,-4,-3.9,-3.7,-3.9,-3.8,-3.6,-3.9,-3.7,-3.8,-3.5,-3.8,-3.6,-3.9,-3.7,-3.5,-3.8,-3.6,-3.9,-3.7,-3.6,-3.8,-3.5,-3.7,-3.9,-3.6,-3.8,-3.7,-3.5,-3.8,-3.6,-3.7,-3.9,-3.6,-3.8,-3.5,-3.7,-3.8,-3.6,-3.7,-3.6,-3.7];
const fWdHyper = [-5.5,-6,-5.8,-6.2,-5.5,-6,-5.8,-6.1,-5.9,-6,-5.2,-6,-5.9,-6.1,-5.8,-6,-5.9,-6,-5.3,-6,-5.9,-6,-5.8,-6.1,-5.9,-6,-5.9,-6,-5.8,-6,-5.9,-6,-5.9,-5.8,-5.9,-5.4,-5.8,-5.5,-6,-5.3,-5.7,-5.5,-5.9,-5.2,-5.6,-5.4,-6,-5.2,-5.7,-5.5,-6.8,-5.3,-5.6,-5.4,-5.9,-5.2,-5.7,-5.4,-6,-5.3];

// ---------- rendering ----------
const page = document.getElementById("page");
const colorOf = Object.fromEntries(methods.map((m, i) => [m, methodColors[i]]));

function addText(html, x, y, cls, css, rot) {
  const d = document.createElement("div");
  d.className = "t " + (cls || "");
  d.innerHTML = html;
  d.style.left = x + "px";
  d.style.top = y + "px";
  d.style.transform = "translate(-50%,-50%)" + (rot ? " rotate(-90deg)" : "");
  Object.assign(d.style, css || {});
  page.appendChild(d);
}

function lineRows(ys, start, step) {
  return ys.map((v, i) => ({x: start + i * step, y: v}));
}
function bandRows(ys, sd, start, step, per) {
  return ys.map((v, i) => {
    const x = start + i * step;
    const s = sd[Math.min(sd.length - 1, Math.floor((x - 1) / per))];
    return {x, y: v, lo: v - s, hi: v + s};
  });
}

function drawChart(o) {
  const [x0, y0, x1, y1] = o.box;
  const big = !!o.big;
  const ML = big ? 52 : 40, MR = 6, MT = 4, MB = big ? 24 : 18;
  const fs = big ? 11 : 7;
  const marks = [];
  if (big) {
    o.series.forEach(s => marks.push(Plot.areaY(s.rows, {
      x: "x", y1: "lo", y2: "hi", fill: colorOf[s.name],
      fillOpacity: s.name === "Random" ? 0.17 : 0.2, clip: true
    })));
  }
  o.series.forEach(s => marks.push(Plot.line(s.rows, {
    x: "x", y: "y", stroke: colorOf[s.name], strokeWidth: big ? 1.1 : (o.dense ? 1.15 : 1), clip: true
  })));
  marks.push(Plot.frame({stroke: "#4a4a4a", strokeWidth: big ? 1.6 : 1.4}));
  marks.push(Plot.axisX({ticks: o.xTicks, tickSize: 0, tickPadding: big ? 4 : 5, tickFormat: "d", label: null, fontSize: fs, fill: "#444"}));
  marks.push(Plot.axisY({ticks: o.yTicks, tickSize: 0, tickPadding: 6, tickFormat: o.fmt, label: null, fontSize: fs, fill: "#444"}));
  const svg = Plot.plot({
    width: x1 - x0 + ML + MR, height: y1 - y0 + MT + MB,
    marginLeft: ML, marginRight: MR, marginTop: MT, marginBottom: MB,
    x: {domain: o.xDomain}, y: {domain: o.yDomain},
    style: {fontFamily: "DejaVu Sans", fontSize: fs + "px", color: "#444", background: "transparent", overflow: "visible"},
    marks
  });
  svg.style.position = "absolute";
  svg.style.left = (x0 - ML) + "px";
  svg.style.top = (y0 - MT) + "px";
  page.appendChild(svg);
  if (o.title) addText(o.title, (x0 + x1) / 2, y0 - (big ? 7 : 6), "", {fontSize: big ? "8px" : "7.5px"});
}

function addLegend(x, y) {
  const d = document.createElement("div");
  d.className = "legend";
  d.style.left = x + "px";
  d.style.top = y + "px";
  methods.forEach((m, i) => {
    const r = document.createElement("div");
    r.className = "lrow";
    r.style.top = (6 + i * 14.5) + "px";
    r.innerHTML = `<span class="sw" style="border-color:${colorOf[m]}"></span><span class="lb">${m}</span>`;
    d.appendChild(r);
  });
  page.appendChild(d);
}

function mainPanel(p) {
  const per = p.kind === 300 ? 10 : 5;
  const step = p.kind === 300 ? 3 : 1;
  drawChart({
    box: p.box, big: true, title: p.env,
    xDomain: [1, p.kind], yDomain: p.yDomain,
    xTicks: p.kind === 300 ? ticks300 : ticks80Main,
    yTicks: p.yTicks, fmt: "d",
    series: methods.map((m, i) => ({name: m, rows: bandRows(p.ys[i], p.sds[i], 1, step, per)}))
  });
  const [x0, y0, x1, y1] = p.box;
  addText("Score", p.scoreX, (y0 + y1) / 2, "", {fontSize: "15px"}, true);
  addText("Trial", (x0 + x1) / 2, y1 + 23, "", {fontSize: "15px"});
  addLegend(p.legend[0], p.legend[1]);
  addText(p.caption, p.capX, p.capY, "cap");
}

function sidePanel(p) {
  const step = p.kind === 300 ? 5 : 2;
  drawChart({
    box: p.box, title: p.title, dense: p.kind === 300,
    xDomain: [1, p.kind], yDomain: p.yDomain,
    xTicks: p.kind === 300 ? ticks300 : ticks80Side,
    yTicks: p.yTicks, fmt: p.fmt,
    series: methods.map((m, i) => ({name: m, rows: lineRows(p.ys[i], 1, step)}))
  });
}

const L = "log<sub>10</sub>";

// main score panels
mainPanel({env: "Pusher", kind: 80, box: [63, 12, 388, 292], yDomain: [-200, 0], yTicks: scoreTicksNeg,
  ys: [aPBT, aRandom, aHyper], sds: [aPBTSd, aRandomSd, aHyperSd], scoreX: 18, legend: [295, 242],
  caption: "(a) Pusher CEM Optimizer", capX: 290, capY: 349});
mainPanel({env: "Pusher", kind: 80, box: [629, 12, 954, 292], yDomain: [-200, 0], yTicks: scoreTicksNeg,
  ys: [bPBT, bRandom, bHyper], sds: [bPBTSd, bRandomSd, bHyperSd], scoreX: 585, legend: [861, 242],
  caption: "(b) Pusher Model Training", capX: 856, capY: 349});
mainPanel({env: "Reacher", kind: 80, box: [67, 404, 392, 684], yDomain: [-200, 0], yTicks: scoreTicksNeg,
  ys: [cPBT, cRandom, cHyper], sds: [cPBTSd, cRandomSd, cHyperSd], scoreX: 22, legend: [298, 634],
  caption: "(c) Reacher CEM Optimizer", capX: 295, capY: 742});
mainPanel({env: "Reacher", kind: 80, box: [633, 404, 958, 684], yDomain: [-200, 0], yTicks: scoreTicksNeg,
  ys: [dPBT, dRandom, dHyper], sds: [dPBTSd, dRandomSd, dHyperSd], scoreX: 588, legend: [865, 634],
  caption: "(d) Reacher Model Training", capX: 860, capY: 742});
mainPanel({env: "Daisy", kind: 300, box: [66, 796, 388, 1076], yDomain: [-60, 1000], yTicks: scoreTicksPos,
  ys: [ePBT, eRandom, eHyper], sds: [ePBTSd, eRandomSd, eHyperSd], scoreX: 22, legend: [294, 1026],
  caption: "(e) Daisy CEM Optimizer", capX: 288, capY: 1134});
mainPanel({env: "Daisy", kind: 300, box: [632, 796, 957, 1076], yDomain: [-136, 1016], yTicks: scoreTicksPos,
  ys: [fPBT, fRandom, fHyper], sds: [fPBTSd, fRandomSd, fHyperSd], scoreX: 588, legend: [864, 1026],
  caption: "(f) Daisy Model Training", capX: 860, capY: 1134});

// hyperparameter panels
const sides = [
  {kind: 80, box: [416, 12, 565, 48], title: "CEM Alpha", yDomain: [0.104, 0.417], yTicks: [0.2, 0.4], fmt: ".1f", ys: [aAlphaPBT, aAlphaRandom, aAlphaHyper]},
  {kind: 80, box: [416, 72, 565, 109], title: L + "(CEM Elites Ratio)", yDomain: [-1.37, -0.395], yTicks: [-1, -0.5], fmt: ".1f", ys: [aElitesPBT, aElitesRandom, aElitesHyper]},
  {kind: 80, box: [416, 133, 565, 170], title: L + "(CEM Population Size)", yDomain: [2.18, 2.78], yTicks: [2.25, 2.5], fmt: ".2f", ys: [aPopPBT, aPopRandom, aPopHyper]},
  {kind: 80, box: [416, 194, 565, 231], title: "Number of CEM Iterations", yDomain: [4.06, 9.85], yTicks: [5, 7.5], fmt: ".1f", ys: [aIterPBT, aIterRandom, aIterHyper]},
  {kind: 80, box: [416, 255, 565, 293], title: "Plan Horizon", yDomain: [4, 42], yTicks: [20, 40], fmt: "d", ys: [aHorPBT, aHorRandom, aHorHyper]},

  {kind: 80, box: [982, 11, 1131, 63], title: L + "(Learning Rate)", yDomain: [-4.52, -2.56], yTicks: [-4.5, -4, -3.5, -3], fmt: ".1f", ys: [bLrPBT, bLrRandom, bLrHyper]},
  {kind: 80, box: [982, 88, 1131, 139], title: "Training Epoch Per Trial", yDomain: [7.5, 20.5], yTicks: [10, 15], fmt: "d", ys: [bEpPBT, bEpRandom, bEpHyper]},
  {kind: 80, box: [982, 168, 1131, 216], title: L + "(Weight Decay)", yDomain: [-7.3, -2.5], yTicks: [-6, -4], fmt: "d", ys: [bWdPBT, bWdRandom, bWdHyper]},

  {kind: 80, box: [420, 404, 568, 441], title: "CEM Alpha", yDomain: [0.1, 0.364], yTicks: [0.2, 0.3], fmt: ".1f", ys: [cAlphaPBT, cAlphaRandom, cAlphaHyper]},
  {kind: 80, box: [420, 464, 568, 501], title: L + "(CEM Elites Ratio)", yDomain: [-1.1, -0.36], yTicks: [-1, -0.5], fmt: ".1f", ys: [cElitesPBT, cElitesRandom, cElitesHyper]},
  {kind: 80, box: [420, 525, 568, 562], title: L + "(CEM Population Size)", yDomain: [2.45, 2.807], yTicks: [2.5, 2.6, 2.7], fmt: ".1f", ys: [cPopPBT, cPopRandom, cPopHyper]},
  {kind: 80, box: [420, 586, 568, 622], title: "Number of CEM Iterations", yDomain: [4.06, 6.18], yTicks: [5, 6], fmt: "d", ys: [cIterPBT, cIterRandom, cIterHyper]},
  {kind: 80, box: [420, 646, 568, 683], title: "Plan Horizon", yDomain: [14.7, 36.5], yTicks: [20, 30], fmt: "d", ys: [cHorPBT, cHorRandom, cHorHyper]},

  {kind: 80, box: [986, 404, 1130, 455], title: L + "(Learning Rate)", yDomain: [-4.0, -2.27], yTicks: [-4, -3.5, -3, -2.5], fmt: ".1f", ys: [dLrPBT, dLrRandom, dLrHyper]},
  {kind: 80, box: [986, 477, 1130, 533], title: "Training Epoch Per Trial", yDomain: [4.5, 18.5], yTicks: [10, 15], fmt: "d", ys: [dEpPBT, dEpRandom, dEpHyper]},
  {kind: 80, box: [986, 554, 1130, 608], title: L + "(Weight Decay)", yDomain: [-6.73, -2.78], yTicks: [-6, -5, -4, -3], fmt: "d", ys: [dWdPBT, dWdRandom, dWdHyper]},

  {kind: 300, box: [423, 796, 567, 833], title: "CEM Alpha", yDomain: [0.05, 0.182], yTicks: [0.1, 0.15], fmt: ".2f", ys: [eAlphaPBT, eAlphaRandom, eAlphaHyper]},
  {kind: 300, box: [423, 857, 567, 893], title: L + "(CEM Elites Ratio)", yDomain: [-1.344, -0.675], yTicks: [-1.25, -1, -0.75], fmt: ".2f", ys: [eElitesPBT, eElitesRandom, eElitesHyper]},
  {kind: 300, box: [423, 917, 567, 954], title: L + "(CEM Population Size)", yDomain: [2.37, 2.81], yTicks: [2.5, 2.75], fmt: ".2f", ys: [ePopPBT, ePopRandom, ePopHyper]},
  {kind: 300, box: [423, 978, 567, 1015], title: "Number of CEM Iterations", yDomain: [3.8, 8.2], yTicks: [5, 7.5], fmt: ".1f", ys: [eIterPBT, eIterRandom, eIterHyper]},
  {kind: 300, box: [423, 1039, 567, 1076], title: "Plan Horizon", yDomain: [8.75, 55], yTicks: [25, 50], fmt: "d", ys: [eHorPBT, eHorRandom, eHorHyper]},

  {kind: 300, box: [983, 796, 1128, 848], title: L + "(Learning Rate)", yDomain: [-4.95, -2.48], yTicks: [-4, -3], fmt: "d", ys: [fLrPBT, fLrRandom, fLrHyper]},
  {kind: 300, box: [983, 872, 1128, 924], title: "Training Epoch Per Trial", yDomain: [3.9, 18.3], yTicks: [5, 10, 15], fmt: "d", ys: [fEpPBT, fEpRandom, fEpHyper]},
  {kind: 300, box: [983, 948, 1128, 1000], title: L + "(Weight Decay)", yDomain: [-6.95, -1.47], yTicks: [-6, -4, -2], fmt: "d", ys: [fWdPBT, fWdRandom, fWdHyper]}
];
sides.forEach(sidePanel);
</script>
</body></html>
